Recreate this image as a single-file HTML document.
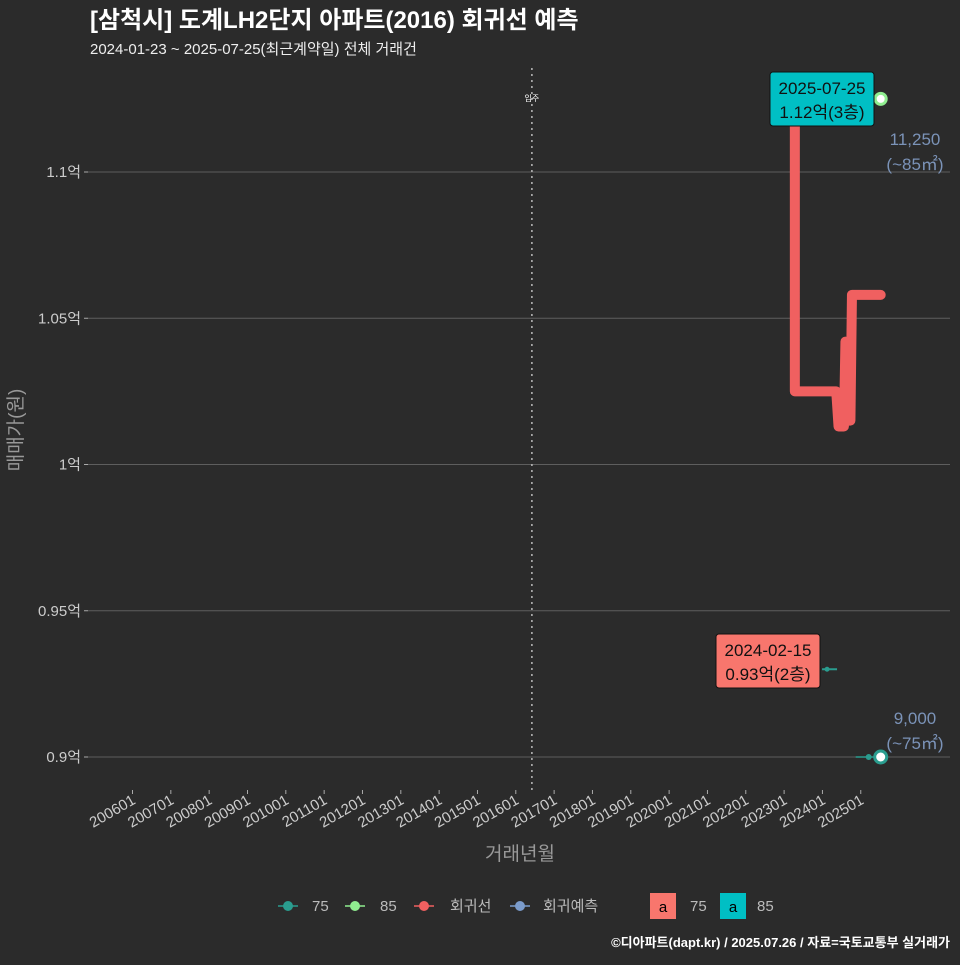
<!DOCTYPE html>
<html><head><meta charset="utf-8"><style>
body{margin:0;background:#2b2b2b;}
svg text{font-family:"Liberation Sans","Noto Sans CJK KR",sans-serif;}
</style></head><body>
<svg width="960" height="960" xmlns="http://www.w3.org/2000/svg">
<rect width="960" height="960" fill="#2b2b2b"/>
<text x="90" y="28" fill="#fff" font-size="24" font-weight="bold">[삼척시] 도계LH2단지 아파트(2016) 회귀선 예측</text>
<text x="90" y="54" fill="#eee" font-size="15">2024-01-23 ~ 2025-07-25(최근계약일) 전체 거래건</text>
<g id="grid"></g><g id="xaxis"></g><g id="marks"></g>
<text transform="translate(22,430) rotate(-90)" text-anchor="middle" fill="#999" font-size="19">매매가(원)</text>
<text x="520" y="860" text-anchor="middle" fill="#999" font-size="19">거래년월</text>
<g font-size="15" fill="#bbb">
<line x1="278" y1="906" x2="298" y2="906" stroke="#2a9d8f" stroke-width="1.5"/><circle cx="288" cy="906" r="5" fill="#2a9d8f"/><text x="312" y="911">75</text>
<line x1="345" y1="906" x2="365" y2="906" stroke="#90ee90" stroke-width="1.5"/><circle cx="355" cy="906" r="5" fill="#90ee90"/><text x="380" y="911">85</text>
<line x1="414" y1="906" x2="434" y2="906" stroke="#f06060" stroke-width="1.5"/><circle cx="424" cy="906" r="5" fill="#f06060"/><text x="450" y="911">회귀선</text>
<line x1="510" y1="906" x2="530" y2="906" stroke="#7b9ccc" stroke-width="1.5"/><circle cx="520" cy="906" r="5" fill="#7b9ccc"/><text x="543" y="911">회귀예측</text>
<rect x="650" y="893" width="26" height="26" fill="#f8766d"/><text x="663" y="912" text-anchor="middle" fill="#000">a</text><text x="690" y="911">75</text>
<rect x="720" y="893" width="26" height="26" fill="#00bfc4"/><text x="733" y="912" text-anchor="middle" fill="#000">a</text><text x="757" y="911">85</text>
</g>
<text x="950" y="947" text-anchor="end" fill="#fff" font-size="13" font-weight="bold">©디아파트(dapt.kr) / 2025.07.26 / 자료=국토교통부 실거래가</text>
</svg>
<script>
const yTicks=[0.9,0.95,1.0,1.05,1.1];
const yTickLabels=["0.9억","0.95억","1억","1.05억","1.1억"];
const xTickYears=[2006,2007,2008,2009,2010,2011,2012,2013,2014,2015,2016,2017,2018,2019,2020,2021,2022,2023,2024,2025];
const xTickLabels=["200601","200701","200801","200901","201001","201101","201201","201301","201401","201501","201601","201701","201801","201901","202001","202101","202201","202301","202401","202501"];
const regYears=[2023.28,2023.28,2024.36,2024.42,2024.56,2024.6,2024.62,2024.73,2024.77,2025.52];
const regValues=[1.118,1.025,1.025,1.013,1.013,1.042,1.015,1.015,1.058,1.058];
const moveInYear=2016.42;
const p75Years=[2024.12,2025.52];const p75Values=[0.93,0.90];
const p85Years=[2025.52];const p85Values=[1.125];
const NS="http://www.w3.org/2000/svg";
const X=y=>132.5+(y-2006)*38.33;
const Y=v=>757-(v-0.9)/0.05*146.25;
function mk(t,a,p){const e=document.createElementNS(NS,t);for(const k in a)e.setAttribute(k,a[k]);p.appendChild(e);return e;}
const grid=document.getElementById('grid'),xa=document.getElementById('xaxis'),m=document.getElementById('marks');
yTicks.forEach((v,i)=>{
 const l=mk('line',{x1:88,x2:950,y1:Y(v),y2:Y(v),stroke:'#5e5e5e','stroke-width':1},grid);
 
 
 mk('line',{x1:84,x2:88,y1:Y(v),y2:Y(v),stroke:'#aaa'},grid);
 const t=mk('text',{x:81,y:Y(v)+5,'text-anchor':'end',fill:'#ccc','font-size':15},grid);t.textContent=yTickLabels[i];
 
 
});
xTickYears.forEach((yr,i)=>{
 const x=X(yr);
 mk('line',{x1:x,x2:x,y1:790,y2:794,stroke:'#aaa'},xa);
 const t=mk('text',{transform:`translate(${x+4},${803}) rotate(-30)`,'text-anchor':'end',fill:'#ccc','font-size':15},xa);t.textContent=xTickLabels[i];
 
 
});
const mv=mk('line',{x1:X(moveInYear),x2:X(moveInYear),y1:68,y2:790,stroke:'#bbb','stroke-dasharray':'2,4','stroke-width':1.5},m);


const mt=mk('text',{x:X(moveInYear),y:101,'text-anchor':'middle',fill:'#fff','font-size':8},m);mt.textContent='입주';
const reg=mk('polyline',{points:regYears.map((y,i)=>X(y)+','+Y(regValues[i])).join(' '),fill:'none',stroke:'#f06060','stroke-width':10,'stroke-linejoin':'round','stroke-linecap':'round'},m);


mk('line',{x1:X(p75Years[0])-5,x2:X(p75Years[0])+10,y1:Y(p75Values[0]),y2:Y(p75Values[0]),stroke:'#2a9d8f','stroke-width':2},m);
mk('circle',{cx:X(p75Years[0]),cy:Y(p75Values[0]),r:2.5,fill:'#2a9d8f'},m);
mk('line',{x1:X(p75Years[1])-25,x2:X(p75Years[1]),y1:Y(p75Values[1]),y2:Y(p75Values[1]),stroke:'#2a9d8f','stroke-width':1.5},m);
mk('circle',{cx:X(p75Years[1])-12,cy:Y(p75Values[1]),r:3,fill:'#2a9d8f'},m);
const c75=mk('circle',{cx:X(p75Years[1]),cy:Y(p75Values[1]),r:6,fill:'#fff',stroke:'#2a9d8f','stroke-width':3},m);


const c85=mk('circle',{cx:X(p85Years[0]),cy:Y(p85Values[0]),r:5.5,fill:'#fff',stroke:'#90ee90','stroke-width':3},m);


function label(x,y,w,fill,l1,l2,name){
 const g=mk('g',{},m);
 mk('rect',{x:x,y:y,width:w,height:54,rx:3,fill:fill,stroke:'#111'},g);
 const a=mk('text',{x:x+w/2,y:y+22,'text-anchor':'middle','font-size':17,fill:'#111'},g);a.textContent=l1;
 const b=mk('text',{x:x+w/2,y:y+46,'text-anchor':'middle','font-size':17,fill:'#111'},g);b.textContent=l2;
}
label(770,72,104,'#00bfc4','2025-07-25','1.12억(3층)','label-85-latest');
label(716,634,104,'#f8766d','2024-02-15','0.93억(2층)','label-75-latest');
function val(x,y,l1,l2,name){const a=mk('text',{x:x,y:y,'text-anchor':'middle','font-size':17,fill:'#7b93b8'},m);a.textContent=l1;
const b=mk('text',{x:x,y:y+25,'text-anchor':'middle','font-size':17,fill:'#7b93b8'},m);b.textContent=l2;}
val(915,145,'11,250','(~85㎡)','value-85');
val(915,724,'9,000','(~75㎡)','value-75');
</script>
</body></html>
